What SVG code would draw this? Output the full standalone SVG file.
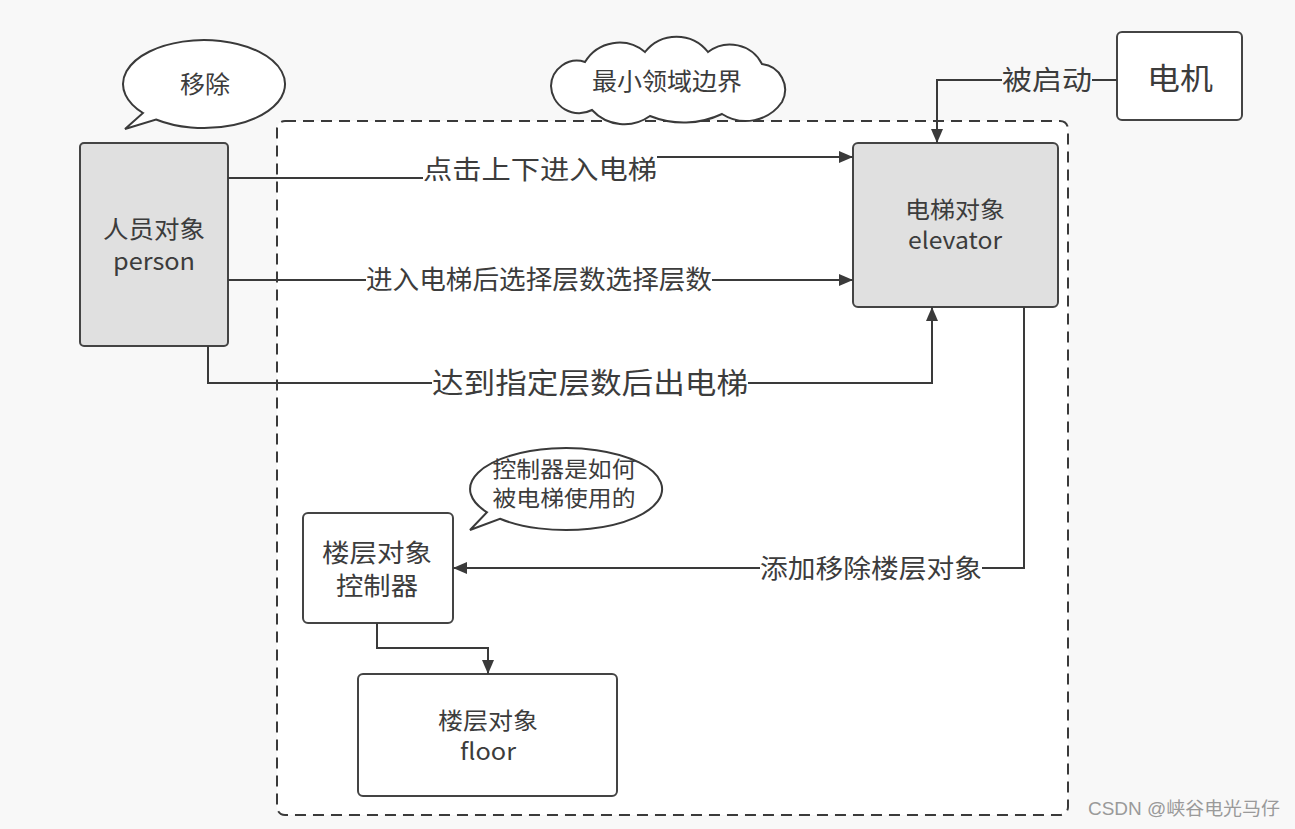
<svg xmlns="http://www.w3.org/2000/svg" width="1295" height="829" viewBox="0 0 1295 829">
<defs>
<style>
.box{stroke:#444;stroke-width:2}
.gray{fill:#e0e0e0}
.white{fill:#fff}
.t{font-family:"Noto Sans CJK SC","Noto Sans",sans-serif;fill:#3c3c3c;text-anchor:middle}
.ln{fill:none;stroke:#3a3a3a;stroke-width:2}
.ar{marker-end:url(#arrow)}
</style>
<marker id="arrow" markerUnits="userSpaceOnUse" markerWidth="16" markerHeight="14" refX="14" refY="7" orient="auto">
<path d="M0,1 L14,7 L0,13 Z" fill="#3a3a3a"/>
</marker>
</defs>
<rect x="0" y="0" width="1295" height="829" fill="#f8f8f8"/>
<g id="boundary">
<rect x="277" y="121" width="791" height="694" rx="8" fill="#fff" stroke="#3a3a3a" stroke-width="2" stroke-dasharray="11,7"/>
</g>
<g id="cloud">
<path d="M551,86 A26,26 0 0 1 585,62 A40,40 0 0 1 645,52 A40,40 0 0 1 708,52 A36,36 0 0 1 762,64 A26,26 0 0 1 782,102 A44,44 0 0 1 722,114 A90,90 0 0 1 650,116 A44,44 0 0 1 592,110 A28,28 0 0 1 551,86 Z" fill="#fff" stroke="#3a3a3a" stroke-width="2"/>
<text class="t" x="667" y="90" font-size="24" textLength="150" lengthAdjust="spacingAndGlyphs">最小领域边界</text>
</g>
<g id="bubble-remove">
<path d="M156,119.5 A81,44 0 1 0 143,113 L125,129 Z" fill="#fff" stroke="#3a3a3a" stroke-width="2"/>
<text class="t" x="205" y="93" font-size="24" textLength="50" lengthAdjust="spacingAndGlyphs">移除</text>
</g>
<g id="person">
<rect class="box gray" x="80" y="143" width="148" height="203" rx="4"/>
<text class="t" x="154" y="238" font-size="24" textLength="102" lengthAdjust="spacingAndGlyphs">人员对象</text>
<text class="t" x="154" y="270" font-size="24" textLength="82" lengthAdjust="spacingAndGlyphs">person</text>
</g>
<g id="motor">
<rect class="box white" x="1117" y="32" width="125" height="88" rx="5"/>
<text class="t" x="1180" y="89" font-size="30" textLength="66" lengthAdjust="spacingAndGlyphs">电机</text>
</g>
<g id="elevator">
<rect class="box gray" x="853" y="143" width="205" height="164" rx="5"/>
<text class="t" x="955" y="218" font-size="23" textLength="100" lengthAdjust="spacingAndGlyphs">电梯对象</text>
<text class="t" x="955" y="249" font-size="23" textLength="94" lengthAdjust="spacingAndGlyphs">elevator</text>
</g>
<g id="bubble-controller">
<path d="M500,518.8 A96,41 0 1 0 487,512.3 L470,530 Z" fill="#fff" stroke="#3a3a3a" stroke-width="2"/>
<text class="t" x="564" y="477" font-size="22" textLength="143" lengthAdjust="spacingAndGlyphs">控制器是如何</text>
<text class="t" x="564" y="506" font-size="22" textLength="143" lengthAdjust="spacingAndGlyphs">被电梯使用的</text>
</g>
<g id="controller">
<rect class="box white" x="303" y="513" width="150" height="110" rx="5"/>
<text class="t" x="377" y="562" font-size="25" textLength="110" lengthAdjust="spacingAndGlyphs">楼层对象</text>
<text class="t" x="377" y="595" font-size="25" textLength="82" lengthAdjust="spacingAndGlyphs">控制器</text>
</g>
<g id="floor">
<rect class="box white" x="358" y="674" width="259" height="122" rx="5"/>
<text class="t" x="488" y="729" font-size="23" textLength="100" lengthAdjust="spacingAndGlyphs">楼层对象</text>
<text class="t" x="488" y="760" font-size="23" textLength="56" lengthAdjust="spacingAndGlyphs">floor</text>
</g>
<g id="connectors">
<path class="ln" d="M1117,80 H1092"/>
<path class="ln ar" d="M1002,80 H937 V143"/>
<text class="t" x="1047" y="90" font-size="27" textLength="90" lengthAdjust="spacingAndGlyphs">被启动</text>
<path class="ln" d="M228,178 H423"/>
<path class="ln ar" d="M657,157 H853"/>
<text class="t" x="540" y="179" font-size="26" textLength="234" lengthAdjust="spacingAndGlyphs">点击上下进入电梯</text>
<path class="ln" d="M228,280 H366"/>
<path class="ln ar" d="M712,280 H853"/>
<text class="t" x="539" y="289" font-size="26" textLength="346" lengthAdjust="spacingAndGlyphs">进入电梯后选择层数选择层数</text>
<path class="ln" d="M208,346 V383 H432"/>
<path class="ln ar" d="M748,383 H932 V307"/>
<text class="t" x="590" y="394" font-size="29" textLength="316" lengthAdjust="spacingAndGlyphs">达到指定层数后出电梯</text>
<path class="ln" d="M1024,307 V568 H982"/>
<path class="ln ar" d="M760,568 H453"/>
<text class="t" x="871" y="578" font-size="26" textLength="222" lengthAdjust="spacingAndGlyphs">添加移除楼层对象</text>
<path class="ln ar" d="M377,623 V648 H488 V674"/>
</g>
<text x="1088" y="815" font-family="'Liberation Sans','Noto Sans CJK SC',sans-serif" font-size="18" fill="#9a9a9a" textLength="192" lengthAdjust="spacingAndGlyphs">CSDN @峡谷电光马仔</text>
</svg>
